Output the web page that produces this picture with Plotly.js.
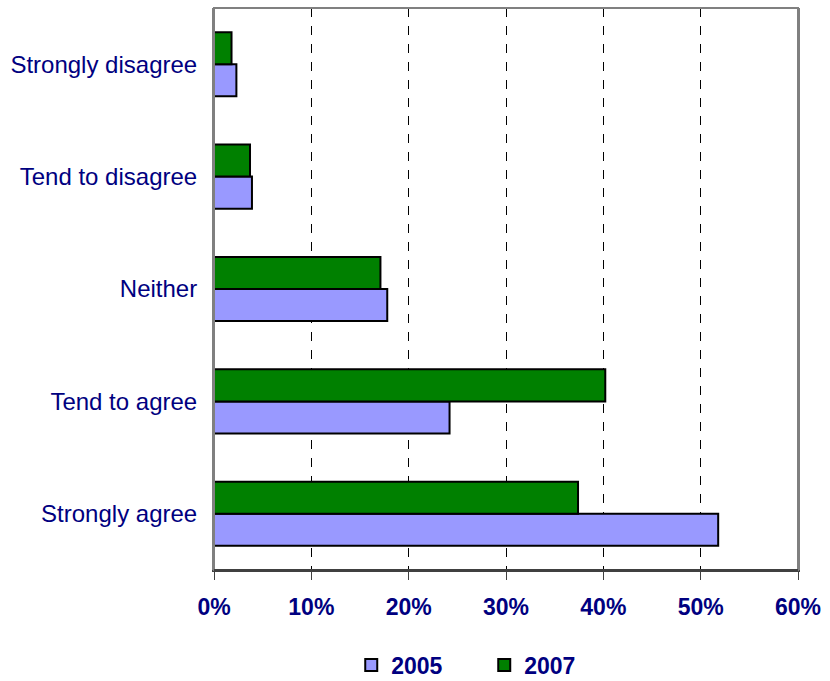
<!DOCTYPE html>
<html>
<head>
<meta charset="utf-8">
<script src="https://cdn.plot.ly/plotly-3.0.1.min.js"></script>
<style>html,body{margin:0;padding:0;background:#fff;}#chart{width:830px;height:681px;}</style>
</head>
<body>
<div id="chart"></div>
<script>
const categories = ['Strongly agree', 'Tend to agree', 'Neither', 'Tend to disagree', 'Strongly disagree'];
const values2005 = [51.8, 24.2, 17.8, 3.9, 2.3];
const values2007 = [37.4, 40.2, 17.1, 3.7, 1.8];
const xTickVals = [0, 10, 20, 30, 40, 50, 60];
const xTickText = ['0%', '10%', '20%', '30%', '40%', '50%', '60%'];

const navy = '#000080';
const fam = 'Liberation Sans, Arial, sans-serif';
const traces = [
  {type: 'bar', orientation: 'h', name: '2005', y: categories, x: values2005,
   marker: {color: '#9999FF', line: {color: '#000000', width: 2}}},
  {type: 'bar', orientation: 'h', name: '2007', y: categories, x: values2007,
   marker: {color: '#008000', line: {color: '#000000', width: 2}}}
];
const layout = {
  width: 830, height: 681,
  margin: {l: 214, r: 32, t: 8, b: 111, autoexpand: false},
  paper_bgcolor: '#ffffff', plot_bgcolor: '#ffffff',
  barmode: 'group', bargap: 0.43, bargroupgap: 0,
  font: {family: fam, color: navy, size: 23},
  xaxis: {
    range: [0, 60], tickvals: xTickVals, ticktext: xTickText,
    tickfont: {family: fam, size: 23, color: navy, weight: 'bold'},
    showgrid: true, gridcolor: '#000000', griddash: 'dash', gridwidth: 1,
    showline: true, linecolor: '#404040', linewidth: 2, mirror: false,
    ticks: 'outside', ticklen: 8, tickcolor: '#404040', tickwidth: 1,
    ticklabelstandoff: 7, zeroline: false, fixedrange: true, automargin: false
  },
  yaxis: {
    categoryorder: 'array', categoryarray: categories,
    tickfont: {family: fam, size: 24, color: navy},
    showline: true, linecolor: '#808080', linewidth: 2, mirror: true,
    ticks: '', ticklabelstandoff: 10, showgrid: false, zeroline: false, fixedrange: true, automargin: false
  },
  legend: {
    orientation: 'h', x: 0.235, xanchor: 'left', y: -0.131, yanchor: 'top',
    font: {family: fam, size: 23, color: navy, weight: 'bold'},
    entrywidth: 88, entrywidthmode: 'pixels', tracegroupgap: 0
  },
  shapes: [
    {type: 'rect', xref: 'paper', yref: 'paper', x0: 0, x1: 1, y0: 0, y1: 1, line: {color: '#808080', width: 2}, layer: 'above'},
    {type: 'line', xref: 'paper', yref: 'paper', x0: 0, x1: 1, y0: 0, y1: 0, line: {color: '#404040', width: 2}, layer: 'above'}
  ]
};
Plotly.newPlot('chart', traces, layout, {displayModeBar: false, staticPlot: true});
</script>
</body>
</html>
